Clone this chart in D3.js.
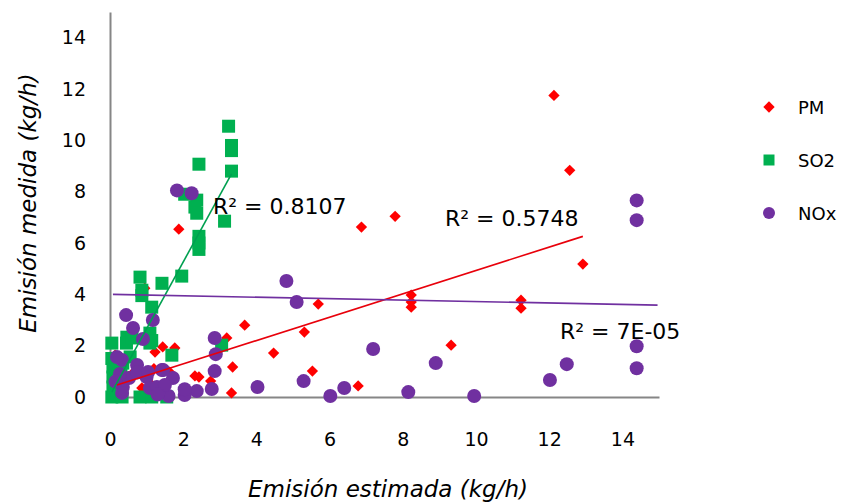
<!DOCTYPE html>
<html lang="es">
<head>
    <meta charset="UTF-8">
    <title>Emisión estimada vs medida</title>
    <script src="https://cdn.jsdelivr.net/npm/d3@7"></script>
    <style>
        body{ margin:0; background:#fff; }
        svg{ font-family: "DejaVu Sans", Verdana, sans-serif; }
    </style>
</head>
<body>
</body>
<script type="text/javascript">

    // estimated (x) / measured (y) emission, kg/h
    let pmX = [12.13,12.56,12.92,9.32,11.23,11.23,8.23,8.23,8.23,7.79,6.87,5.69,5.31,4.47,5.53,6.78,
               3.68,3.19,3.35,2.32,2.43,2.75,3.32,1.88,0.95,1.44,1.77,1.23,0.14,1.63,1.04,1.14,0.87,0.27,0.19,0.6,1.2,0.5];
    let pmY = [11.75,8.83,5.18,2.02,3.77,3.46,3.97,3.7,3.5,7.04,6.62,3.62,2.53,1.71,1.01,0.43,
               2.80,2.30,1.17,0.82,0.78,0.62,0.16,6.54,4.24,1.95,1.91,1.75,1.63,0.97,0.93,0.47,0.35,0.39,0.47,0.9,1.1,0.8];

    let so2X = [3.24,3.32,3.32,3.32,2.43,3.13,2.37,2.32,2.37,2.43,2.43,2.43,2.04,
                0.82,0.87,0.87,1.42,1.96,1.14,1.09,1.09,0.05,0.46,0.45,1.69,3.05,
                0.08,0.08,0.08,0.05,0.33,0.82,1.14,0.35,0.55,0.6,1.14,1.55,0.2,0.3,0.05];
    let so2Y = [10.55,9.8,9.6,8.8,9.07,6.85,7.67,7.4,7.16,6.26,6.0,5.75,7.9,
                4.67,4.16,3.95,4.43,4.71,3.5,2.49,2.1,2.1,2.33,2.1,1.63,2.02,
                1.17,0.78,0.39,0.0,0.0,0.0,0.0,1.32,1.56,2.3,2.2,0.0,0.6,0.9,1.5];

    let noxX = [14.39,14.39,14.39,14.39,12.48,12.02,9.95,8.9,8.15,7.19,6.4,6.02,5.29,5.1,4.82,
                2.86,2.89,2.86,4.03,2.37,2.78,1.83,2.23,
                0.44,1.17,0.63,0.9,2.04,1.6,1.34,1.72,1.42,0.74,0.33,1.0,1.09,0.35,0.33,0.52,0.19,
                1.28,1.5,0.74,1.04,1.45,2.04,1.3,0.27,0.15];
    let noxY = [7.66,6.89,1.98,1.12,1.28,0.66,0.04,1.32,0.19,1.87,0.35,0.04,0.62,3.7,4.52,
                2.3,1.67,1.01,0.39,0.23,0.31,8.05,7.94,
                3.19,3.0,2.69,2.26,0.08,0.04,0.2,0.74,1.05,1.25,1.44,0.78,0.35,0.39,0.16,0.74,1.56,
                0.39,0.47,0.95,0.97,1.05,0.3,0.1,0.9,0.6];

    // linear trend lines: [xStart, xEnd, slope, intercept]
    let pmTrend  = [0.19, 12.92, 0.455, 0.38];
    let so2Trend = [0.05, 3.32, 2.60, 0.06];
    let noxTrend = [0.08, 14.96, -0.028, 4.0];

    let r2Labels = ["R² = 0.5748", "R² = 0.8107", "R² = 7E-05"];
    let seriesNames = ["PM", "SO2", "NOx"];
    let xTicks = [0,2,4,6,8,10,12,14];
    let yTicks = [0,2,4,6,8,10,12,14];

    let width = 842, height = 504;
    let svg = d3.select("body").append("svg")
        .attr("width", width)
        .attr("height", height);

    let x = d3.scaleLinear().domain([0,15]).range([110,659]);
    let y = d3.scaleLinear().domain([0,15]).range([397,12]);

    let colors = ["#ff0000", "#00b050", "#7030a0"];
    let lineColors = ["#e8000b", "#00a050", "#7030a0"];

    // axes
    let xAxis = d3.axisBottom(x).tickValues(xTicks).tickSize(0).tickSizeOuter(0).tickPadding(36);
    let gx = svg.append("g").attr("transform", `translate(0,${y(0)})`).call(xAxis);
    let yAxis = d3.axisLeft(y).tickValues(yTicks).tickSize(0).tickSizeOuter(0).tickPadding(24);
    let gy = svg.append("g").attr("transform", `translate(${x(0)},0)`).call(yAxis);
    [gx, gy].forEach(g => {
        g.select(".domain").attr("stroke", "#868686").attr("stroke-width", 2);
        g.selectAll("text").attr("font-size", 19).attr("fill", "#000")
            .attr("font-family", "DejaVu Sans, sans-serif");
    });

    // markers
    let plotGroup = svg.append("g");
    let pts = (xs, ys) => xs.map((v,i) => ({x:v, y:ys[i]}));

    plotGroup.append("g").selectAll("path")
        .data(pts(pmX, pmY)).join("path")
        .attr("d", d3.symbol(d3.symbolSquare, 64))
        .attr("transform", d => `translate(${x(d.x)},${y(d.y)}) rotate(45)`)
        .attr("fill", colors[0]);

    plotGroup.append("g").selectAll("path")
        .data(pts(so2X, so2Y)).join("path")
        .attr("d", d3.symbol(d3.symbolSquare, 169))
        .attr("transform", d => `translate(${x(d.x)},${y(d.y)})`)
        .attr("fill", colors[1]);

    plotGroup.append("g").selectAll("circle")
        .data(pts(noxX, noxY)).join("circle")
        .attr("cx", d => x(d.x))
        .attr("cy", d => y(d.y))
        .attr("r", 7)
        .attr("fill", colors[2]);

    // trend lines
    [pmTrend, so2Trend, noxTrend].forEach((t, i) => {
        let ends = [t[0], t[1]].map(v => [v, t[2]*v + t[3]]);
        svg.append("path")
            .datum(ends)
            .attr("d", d3.line().x(d => x(d[0])).y(d => y(d[1])))
            .attr("fill", "none")
            .attr("stroke", lineColors[i])
            .attr("stroke-width", 1.6);
    });

    // R² labels
    let r2Pos = [[445,226], [213,214], [560,339]];
    r2Labels.forEach((txt, i) => {
        svg.append("text")
            .attr("x", r2Pos[i][0]).attr("y", r2Pos[i][1])
            .attr("font-size", 22)
            .attr("fill", "#000")
            .text(txt);
    });

    // legend
    let legend = svg.append("g").attr("transform", "translate(769,107)");
    seriesNames.forEach((name, i) => {
        let row = legend.append("g").attr("transform", `translate(0,${i*53})`);
        if(i == 0){
            row.append("path").attr("d", d3.symbol(d3.symbolSquare, 64)).attr("transform", "rotate(45)").attr("fill", colors[0]);
        } else if(i == 1){
            row.append("path").attr("d", d3.symbol(d3.symbolSquare, 121)).attr("fill", colors[1]);
        } else {
            row.append("circle").attr("r", 6).attr("fill", colors[2]);
        }
        row.append("text").attr("x", 29).attr("y", 7)
            .attr("font-size", 18).attr("fill", "#000").text(name);
    });

    // axis titles
    svg.append("text")
        .attr("transform", "translate(36,203) rotate(-90)")
        .attr("text-anchor", "middle")
        .attr("font-size", 23)
        .attr("font-style", "italic")
        .text("Emisión medida (kg/h)");
    svg.append("text")
        .attr("x", 388).attr("y", 497)
        .attr("text-anchor", "middle")
        .attr("font-size", 23)
        .attr("font-style", "italic")
        .text("Emisión estimada (kg/h)");

</script>
</html>
